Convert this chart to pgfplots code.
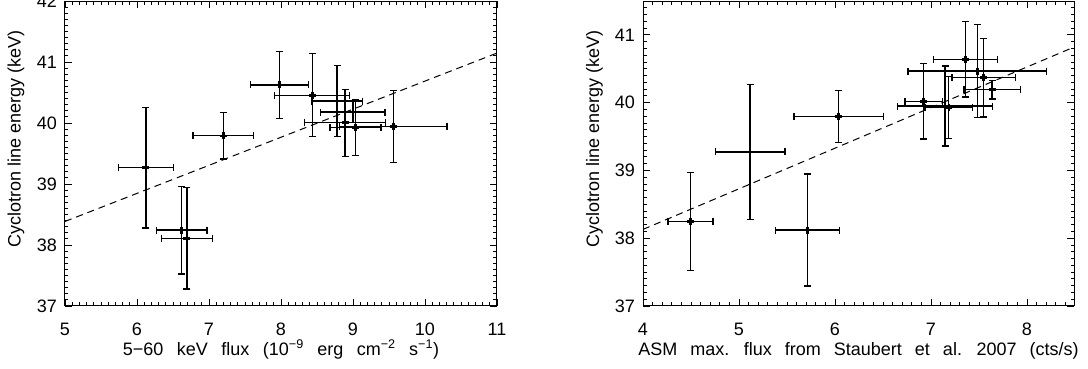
\documentclass[border=0pt]{standalone}
\usepackage{pgfplots}
\pgfplotsset{compat=1.18}
\usepackage{pgfplotstable}
\usetikzlibrary{arrows.meta}
\usepackage{fontspec}
\setmainfont{Liberation Sans}

\pgfplotstableread{
x y ex ey
6.125 39.27 0.39 1.00
6.62 38.245 0.36 0.73
6.694 38.11 0.36 0.84
7.20 39.79 0.43 0.39
7.977 40.625 0.41 0.56
8.435 40.455 0.53 0.69
8.778 40.36 0.36 0.59
8.889 40.005 0.574 0.56
8.998 40.179 0.456 0.18
9.035 39.924 0.363 0.47
9.56 39.94 0.755 0.60
}\leftdata

\pgfplotstableread{
x y ex ey
4.496 38.25 0.241 0.731
5.116 39.274 0.369 1.005
5.716 38.12 0.34 0.836
6.038 39.797 0.471 0.391
6.925 40.02 0.201 0.565
7.147 39.95 0.503 0.599
7.186 39.93 0.255 0.467
7.362 40.64 0.341 0.565
7.483 40.467 0.73 0.692
7.549 40.37 0.338 0.589
7.636 40.19 0.30 0.147
}\rightdata

\begin{document}
\fontsize{18}{21}\selectfont
\begin{tikzpicture}
\useasboundingbox (0pt,0pt) rectangle (1088pt,369pt);
\pgfplotsset{
  common/.style={
    scale only axis, anchor=south west, height=305pt,
    tick align=inside, major tick length=7pt, minor tick length=3.5pt,
    every tick/.style={black, line width=0.9pt},
    axis line style={line width=1pt},
    /pgf/number format/assume math mode=true,
    ticklabel style={font=\fontsize{18}{21}\selectfont},
    xticklabel style={inner sep=0pt, anchor=north, yshift=-17pt},
    yticklabel style={inner sep=0pt, anchor=east, xshift=-8pt},
    ylabel={Cyclotron line energy (keV)},
    label style={font=\fontsize{18}{21}\selectfont, inner sep=0pt},
    xlabel style={at={(axis description cs:0.5,-0.1607)}, anchor=base},
  },
  ebars/.style={draw=none, mark=none,
    error bars/.cd, x dir=both, x explicit, y dir=both, y explicit,
    error mark=none,
    error bar style={draw=black, line width=1.3pt, {Bar[width=7pt]}-{Bar[width=7pt]}}},
  fitline/.style={black, line width=1pt, dash pattern=on 7pt off 5pt},
}
\begin{axis}[common, at={(65pt,63pt)}, width=432pt,
  xmin=5, xmax=11, ymin=37, ymax=42,
  xtick={5,...,11}, ytick={37,...,42}, minor tick num=9,
  ylabel style={at={(axis description cs:-0.1134,0.548)}, anchor=center},
  xlabel={\spaceskip=13.5pt\relax 5−60 keV flux (10\textsuperscript{−9} erg cm\textsuperscript{−2} s\textsuperscript{−1})},
]
\addplot[fitline] coordinates {(5,38.386) (11,41.147)};
\addplot[ebars] table[x=x, y=y, x error=ex, y error=ey] {\leftdata};
\end{axis}
\begin{axis}[common, at={(643pt,63pt)}, width=431pt,
  xmin=4, xmax=8.49, ymin=37, ymax=41.5,
  xtick={4,...,8}, ytick={37,...,41},
  minor xtick={4.1,4.2,...,8.45}, minor ytick={37.1,37.2,...,41.45},
  ylabel style={at={(axis description cs:-0.1125,0.548)}, anchor=center},
  xlabel={\spaceskip=13pt\relax ASM max. flux from Staubert et al. 2007 (cts/s)},
]
\addplot[fitline] coordinates {(4,38.13) (8.49,40.82)};
\addplot[ebars] table[x=x, y=y, x error=ex, y error=ey] {\rightdata};
\end{axis}
\end{tikzpicture}
\end{document}
